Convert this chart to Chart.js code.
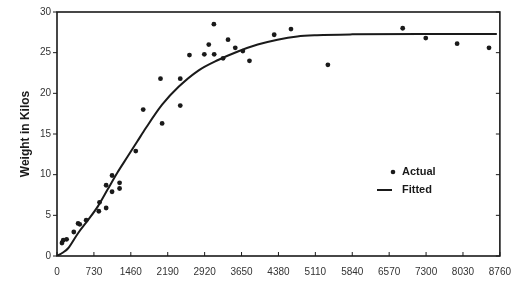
<!DOCTYPE html>
<html>
<head>
<meta charset="utf-8">
<script src="https://cdn.jsdelivr.net/npm/chart.js@4/dist/chart.umd.min.js"></script>
<style>
html,body{margin:0;padding:0;background:#fff;}
#wrap{width:521px;height:286px;position:relative;}
</style>
</head>
<body>
<div id="wrap"><canvas id="c" width="521" height="286"></canvas></div>
<script>
// Data
const actualDays = [98,123,190,332,417,450,577,827,841,972,972,1089,1089,1238,1238,1558,1705,2047,2079,2438,2438,2620,2914,3002,3103,3109,3285,3383,3526,3676,3807,4296,4628,5358,6838,7294,7914,8545];
const actualKg   = [1.6,1.95,2.05,2.95,4.0,3.9,4.4,5.5,6.6,5.9,8.7,7.9,9.9,9.0,8.3,12.9,18.0,21.8,16.3,21.8,18.5,24.7,24.8,26.0,28.5,24.8,24.3,26.6,25.6,25.2,24.0,27.2,27.9,23.5,28.0,26.8,26.1,25.6];
const fittedDays = [0,110,221,416,612,808,1003,1199,1394,1590,1754,2079,2405,2796,3187,3578,3970,4361,4752,5143,5840,7300,8700];
const fittedKg   = [0,0.4,0.95,2.8,4.4,6.1,8.2,10.3,12.2,14.1,15.7,18.6,20.8,22.8,24.1,25.15,26.0,26.6,27.0,27.15,27.25,27.3,27.3];
const xTicks = [0,730,1460,2190,2920,3650,4380,5110,5840,6570,7300,8030,8760];
const yTicks = [0,5,10,15,20,25,30];
const yTitle = "Weight in Kilos";
const seriesNames = ["Actual","Fitted"];

const ink = '#1a1a1a';

const frame = {
  id:'frame',
  afterDraw(chart){
    const {ctx, chartArea:a, scales} = chart;
    ctx.save();
    ctx.strokeStyle = ink;
    ctx.lineWidth = 1.6;
    ctx.strokeRect(a.left, a.top, a.right-a.left, a.bottom-a.top);
    ctx.lineWidth = 1;
    xTicks.forEach(v=>{
      const px = scales.x.getPixelForValue(v);
      ctx.beginPath(); ctx.moveTo(px, a.bottom); ctx.lineTo(px, a.bottom-4); ctx.stroke();
    });
    yTicks.forEach(v=>{
      const py = scales.y.getPixelForValue(v);
      ctx.beginPath(); ctx.moveTo(a.right, py); ctx.lineTo(a.right-4, py); ctx.stroke();
      ctx.beginPath(); ctx.moveTo(a.left, py); ctx.lineTo(a.left-4, py); ctx.stroke();
    });
    ctx.font = 'bold 11px "Liberation Sans", Arial, sans-serif';
    ctx.fillStyle = ink;
    ctx.textBaseline = 'middle';
    ctx.beginPath(); ctx.arc(393, 172, 2.3, 0, Math.PI*2); ctx.fill();
    ctx.fillText(seriesNames[0], 402, 172);
    ctx.lineWidth = 2;
    ctx.beginPath(); ctx.moveTo(377, 190); ctx.lineTo(392, 190); ctx.stroke();
    ctx.fillText(seriesNames[1], 402, 190);
    ctx.restore();
  }
};

const fnt = {family:'"Liberation Sans", Arial, sans-serif', size:10};

new Chart(document.getElementById('c'), {
  type:'scatter',
  data:{
    datasets:[
      {label:seriesNames[0], data:actualDays.map((d,i)=>({x:d,y:actualKg[i]})),
       backgroundColor:ink, borderColor:ink, pointRadius:2.4, pointBorderWidth:0, showLine:false},
      {label:seriesNames[1], data:fittedDays.map((d,i)=>({x:d,y:fittedKg[i]})),
       borderColor:ink, borderWidth:2, pointRadius:0, showLine:true, cubicInterpolationMode:'monotone', fill:false}
    ]
  },
  plugins:[frame],
  options:{
    responsive:false, animation:false, devicePixelRatio:1,
    layout:{padding:{top:10,right:16,left:14,bottom:0}},
    plugins:{legend:{display:false}, tooltip:{enabled:false}},
    scales:{
      x:{type:'linear', min:0, max:8760,
         afterBuildTicks(s){ s.ticks = xTicks.map(v=>({value:v})); },
         afterFit(s){ s.height = 30; },
         grid:{display:false, drawTicks:false}, border:{display:false},
         ticks:{padding:10, color:'#333', font:fnt, maxRotation:0, autoSkip:false, callback:v=>String(v)}
      },
      y:{type:'linear', min:0, max:30,
         afterBuildTicks(s){ s.ticks = yTicks.map(v=>({value:v})); },
         afterFit(s){ s.width = 43; },
         grid:{display:false, drawTicks:false}, border:{display:false},
         title:{display:true, text:yTitle, color:ink, padding:{top:4,bottom:0}, font:{family:'"Liberation Sans", Arial, sans-serif', size:12, weight:'bold'}},
         ticks:{padding:6, color:'#333', font:fnt, callback:v=>String(v)}
      }
    }
  }
});
</script>
</body>
</html>
